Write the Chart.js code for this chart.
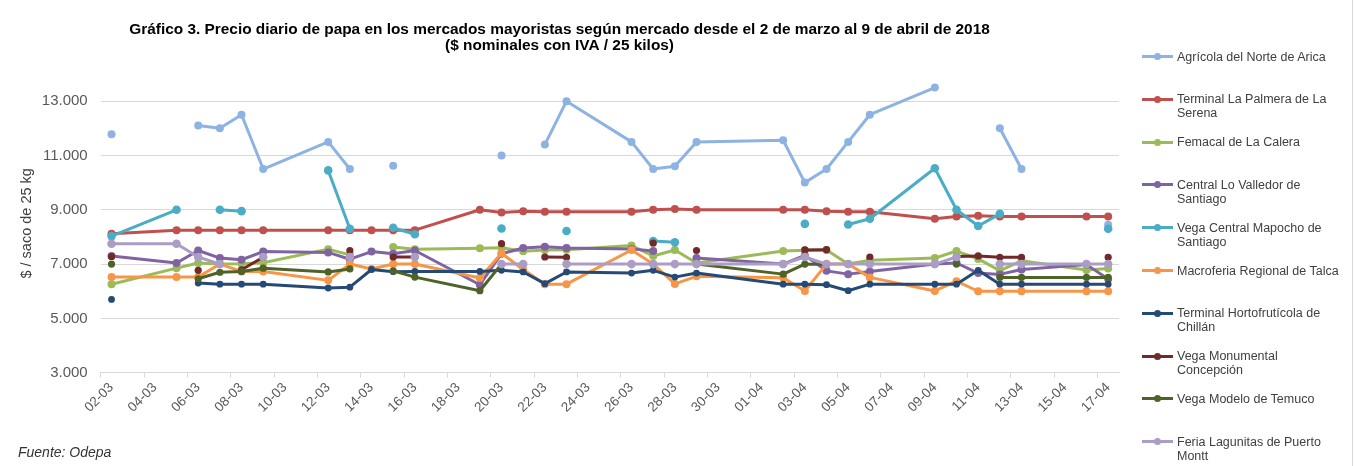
<!DOCTYPE html>
<html>
<head>
<meta charset="utf-8">
<script src="https://cdn.jsdelivr.net/npm/chart.js@4.4.1/dist/chart.umd.min.js"></script>
<style>
  body { margin: 0; background: #fff; font-family: "Liberation Sans", Arial, sans-serif; }
  #wrap { position: relative; width: 1356px; height: 466px; overflow: hidden; }
  #box { position: absolute; left: 0; top: 0; width: 1152px; height: 466px; }
  #legend { position: absolute; left: 1142px; top: 0; width: 210px; height: 466px; }
  .item { position: absolute; left: 0; display: flex; align-items: flex-start; }
  .mark { position: relative; width: 31px; height: 14px; flex: none; }
  .mark i { position: absolute; left: 0; right: 0; top: 5.5px; height: 3px; }
  .mark b { position: absolute; left: 12px; top: 3.5px; width: 7px; height: 7px; border-radius: 50%; }
  .txt { margin-left: 4px; width: 168px; font-size: 12.5px; line-height: 14px; color: #404040; }
  #fuente { position: absolute; left: 18px; top: 444px; font-size: 14px; font-style: italic; color: #333; }
  #edge { position: absolute; left: 1352px; top: 0; width: 1px; height: 466px; background: #d9d9d9; }
</style>
</head>
<body>
<div id="wrap">
  <div id="box"><canvas id="myChart" width="1152" height="466"></canvas></div>
  <div id="legend"></div>
  <div id="fuente">Fuente: Odepa</div>
  <div id="edge"></div>
</div>
<script>
// every calendar day on the axis
const days = ['02-03','03-03','04-03','05-03','06-03','07-03','08-03','09-03','10-03','11-03',
  '12-03','13-03','14-03','15-03','16-03','17-03','18-03','19-03','20-03','21-03',
  '22-03','23-03','24-03','25-03','26-03','27-03','28-03','29-03','30-03','31-03',
  '01-04','02-04','03-04','04-04','05-04','06-04','07-04','08-04','09-04','10-04',
  '11-04','12-04','13-04','14-04','15-04','16-04','17-04'];

// market days that have a row in the table
const dates = ['02-03','05-03','06-03','07-03','08-03','09-03','12-03','13-03','14-03','15-03',
  '16-03','19-03','20-03','21-03','22-03','23-03','26-03','27-03','28-03','29-03',
  '02-04','03-04','04-04','05-04','06-04','09-04','10-04','11-04','12-04','13-04',
  '16-04','17-04'];

const agricola = [11780, null, 12100, 12000, 12500, 10500, 11500, 10500, null, 10620,
  null, null, 11000, null, 11400, 13000, 11500, 10500, 10600, 11500,
  11560, 10000, 10500, 11500, 12500, 13500, null, null, 12000, 10500, null, 8450];
const laPalmera = [8120, 8250, 8250, 8250, 8250, 8250, 8250, 8250, 8250, 8250,
  8250, 9000, 8900, 8950, 8930, 8930, 8930, 9000, 9030, 9000,
  9000, 9000, 8950, 8930, 8930, 8670, 8750, 8780, 8750, 8750, 8750, 8750];
const femacal = [6260, 6850, 7040, 7000, 7010, 7050, 7550, 7340, null, 7630,
  7550, 7580, 7600, 7470, 7520, 7530, 7680, 7300, 7520, 7040,
  7480, 7510, 7520, 7000, 7140, 7220, 7480, 7190, 6760, 7120, 6780, 6840];
const loValledor = [7300, 7040, 7500, 7220, 7160, 7460, 7430, 7180, 7460, 7380,
  7500, 6240, 7380, 7590, 7640, 7590, 7560, 7480, null, 7220,
  7000, 7320, 6750, 6630, 6730, 7000, 7040, 6670, 6620, 6800, 6980, 6450];
const mapocho = [8030, 9000, null, 9000, 8950, null, 10450, 8300, null, 8340,
  8100, null, 8310, null, null, 8220, null, 7850, 7800, null,
  null, 8480, null, 8460, 8670, 10530, 9000, 8400, 8850, null, null, 8300];
const talca = [6520, 6520, 6520, 7000, 6730, 6730, 6400, 7000, 6820, 7000,
  7000, 6485, 7400, 6800, 6260, 6260, 7520, 7000, 6270, 6550,
  6500, 6010, 7000, 7000, 6510, 6010, 6370, 6000, 6000, 6000, 6000, 6000];
const chillan = [5700, null, 6300, 6260, 6260, 6260, 6120, 6150, 6800, 6720,
  6730, 6730, 6770, 6710, 6280, 6710, 6670, 6770, 6520, 6670,
  6260, 6260, 6240, 6020, 6260, 6260, 6260, 6770, 6260, 6260, 6260, 6260];
const concepcion = [7280, null, 6770, null, 6790, 7250, null, 7500, null, 7260,
  7260, null, 7750, null, 7260, 7250, null, 7770, null, 7500,
  null, 7520, 7530, null, 7260, null, 7280, 7300, 7250, 7250, null, 7250];
const temuco = [7000, null, 6460, 6700, 6730, 6850, 6710, 6820, null, 6750,
  6520, 6020, 7000, null, null, null, null, null, null, 7000,
  6630, 7000, 6980, null, null, null, 7000, null, 6510, 6510, 6510, 6510];
const lagunitas = [7750, 7750, 7260, 7000, null, 7260, null, 7260, null, null,
  7260, null, 7000, 7000, null, 7000, 7000, 7000, 7000, 7000,
  7000, 7260, 7000, 7000, 7000, 7000, 7260, null, 7000, 7000, 7000, 7000];

const names = ['Agrícola del Norte de Arica', 'Terminal La Palmera de La Serena',
  'Femacal de La Calera', 'Central Lo Valledor de Santiago', 'Vega Central Mapocho de Santiago',
  'Macroferia Regional de Talca', 'Terminal Hortofrutícola de Chillán',
  'Vega Monumental Concepción', 'Vega Modelo de Temuco', 'Feria Lagunitas de Puerto Montt'];
const series = [agricola, laPalmera, femacal, loValledor, mapocho, talca, chillan, concepcion, temuco, lagunitas];
const yTicks = [3000, 5000, 7000, 9000, 11000, 13000];

const colors = ['#8db3e2', '#c0504d', '#9bbb59', '#8064a2', '#4bacc6',
  '#f79646', '#254a75', '#72292a', '#4f6228', '#ab9dc4'];
const radii = [4, 4, 4, 4, 4.3, 4, 3.4, 3.6, 3.6, 4.3];

const FONT = '"Liberation Sans", Arial, sans-serif';

const datasets = series.map((vals, n) => ({
  label: names[n],
  data: dates.map((d, k) => ({ x: d, y: vals[k] })),
  borderColor: colors[n],
  backgroundColor: colors[n],
  pointBackgroundColor: colors[n],
  pointBorderColor: colors[n],
  borderWidth: 3,
  pointRadius: radii[n],
  pointHoverRadius: radii[n],
  pointBorderWidth: 0,
  borderJoinStyle: 'round',
  borderCapStyle: 'round',
  tension: 0,
  spanGaps: false,
  order: -n   // later series drawn on top, like the original
}));

const fmt = v => String(v).replace(/\B(?=(\d{3})+(?!\d))/g, '.');

const context = document.querySelector('#myChart');
new Chart(context, {
  type: 'line',
  data: { labels: days, datasets: datasets },
  options: {
    responsive: false,
    animation: false,
    devicePixelRatio: 1,
    layout: { padding: { left: 0, right: 33, top: 0, bottom: 0 } },
    plugins: {
      legend: { display: false },
      tooltip: { enabled: false },
      title: {
        display: true,
        text: ['Gráfico 3. Precio diario de papa en los mercados mayoristas según mercado desde el 2 de marzo al 9 de abril de 2018',
               '($ nominales con IVA / 25 kilos)'],
        color: '#000',
        font: { family: FONT, size: 15.4, weight: 'bold', lineHeight: '16px' },
        padding: { top: 22, bottom: 20 }
      }
    },
    scales: {
      x: {
        type: 'category',
        offset: true,
        grid: {
          drawOnChartArea: false,
          offset: true,
          tickLength: 5,
          color: c => (c.index % 2 === 0 ? '#d9d9d9' : 'rgba(0,0,0,0)')
        },
        border: { color: '#d9d9d9' },
        ticks: {
          autoSkip: false,
          maxRotation: 45,
          minRotation: 45,
          padding: 2,
          color: '#595959',
          font: { family: FONT, size: 13.5 },
          callback: function (v, i) { return i % 2 === 0 ? this.getLabelForValue(v) : ''; }
        },
        afterFit: s => { s.height = 93.3; }
      },
      y: {
        min: 3000,
        max: 14000,
        afterBuildTicks: s => { s.ticks = yTicks.map(v => ({ value: v })); },
        grid: { color: '#d9d9d9', drawTicks: false },
        border: { display: false },
        ticks: {
          padding: 13,
          color: '#595959',
          font: { family: FONT, size: 15 },
          callback: v => fmt(v)
        },
        title: {
          display: true,
          text: '$ / saco de 25 kg',
          color: '#404040',
          font: { family: FONT, size: 14.5 },
          padding: { top: 18, bottom: 0 }
        },
        afterFit: s => { s.width = 100.7; }
      }
    }
  }
});

// legend on the right, with wrapped names like the original
const legend = document.getElementById('legend');
names.forEach((name, n) => {
  const item = document.createElement('div');
  item.className = 'item';
  item.style.top = (49.5 + 42.8 * n) + 'px';
  item.innerHTML = '<div class="mark"><i style="background:' + colors[n] + '"></i><b style="background:' +
    colors[n] + '"></b></div><div class="txt">' + name + '</div>';
  legend.appendChild(item);
});
</script>
</body>
</html>
